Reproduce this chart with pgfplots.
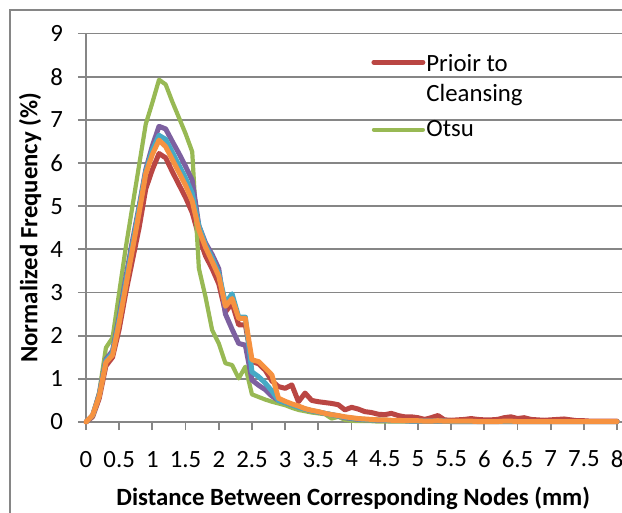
\documentclass[border=0pt]{standalone}
\usepackage{pgfplots}
\usepackage{pgfplotstable}
\usepackage{fontspec}
\pgfplotsset{compat=1.18}
\setmainfont{Carlito}

\definecolor{gridgray}{RGB}{134,134,134}
\definecolor{sred}{RGB}{186,70,67}
\definecolor{sgreen}{RGB}{152,185,84}
\definecolor{spurple}{RGB}{125,96,160}
\definecolor{scyan}{RGB}{70,170,197}
\definecolor{sorange}{RGB}{246,146,64}

% x  prior  otsu  purple  cyan  orange
\pgfplotstableread{
x    red   green purple cyan  orange
0.0  0     0     0      0     0
0.1  0.12  0.15  0.15   0.15  0.16
0.2  0.55  0.70  0.65   0.62  0.60
0.3  1.30  1.72  1.45   1.42  1.38
0.4  1.50  1.95  1.65   1.60  1.55
0.5  2.15  3.00  2.45   2.38  2.30
0.6  3.00  4.05  3.35   3.25  3.15
0.7  3.75  5.00  4.20   4.10  4.00
0.8  4.50  5.95  5.00   4.95  4.85
0.9  5.40  6.90  5.85   5.80  5.75
1.0  5.85  7.40  6.40   6.30  6.20
1.1  6.22  7.93  6.85   6.64  6.53
1.2  6.12  7.82  6.79   6.55  6.38
1.3  5.80  7.42  6.50   6.25  6.08
1.4  5.50  7.05  6.22   5.95  5.78
1.5  5.20  6.68  5.92   5.65  5.48
1.6  4.85  6.26  5.60   5.30  5.12
1.7  4.30  3.56  4.55   4.55  4.45
1.8  3.85  2.90  4.15   4.10  4.05
1.9  3.55  2.13  3.88   3.80  3.72
2.0  3.20  1.82  3.55   3.45  3.38
2.1  2.55  1.36  2.50   2.75  2.68
2.2  2.75  1.32  2.15   2.97  2.86
2.3  2.25  1.01  1.82   2.43  2.40
2.4  2.25  1.28  1.78   2.43  2.40
2.5  1.40  0.64  0.97   1.16  1.44
2.6  1.35  0.58  0.85   1.05  1.40
2.7  1.20  0.52  0.75   0.90  1.25
2.8  0.95  0.47  0.60   0.72  1.09
2.9  0.82  0.43  0.50   0.50  0.55
3.0  0.78  0.39  0.45   0.45  0.48
3.1  0.86  0.33  0.40   0.40  0.42
3.2  0.47  0.28  0.35   0.34  0.37
3.3  0.67  0.25  0.30   0.30  0.31
3.4  0.50  0.22  0.26   0.26  0.27
3.5  0.47  0.20  0.23   0.23  0.24
3.6  0.45  0.18  0.20   0.20  0.20
3.7  0.43  0.08  0.17   0.17  0.17
3.8  0.40  0.12  0.14   0.14  0.15
3.9  0.28  0.05  0.10   0.11  0.12
4.0  0.34  0.03  0.08   0.09  0.10
4.1  0.30  0.02  0.06   0.07  0.08
4.2  0.24  0.02  0.05   0.06  0.07
4.3  0.22  0.02  0.05   0.05  0.06
4.4  0.18  0.01  0.04   0.05  0.05
4.5  0.17  0.01  0.04   0.04  0.05
4.6  0.20  0.01  0.03   0.03  0.04
4.7  0.15  0.01  0.03   0.03  0.04
4.8  0.12  0.01  0.03   0.03  0.03
4.9  0.12  0.01  0.02   0.02  0.03
5.0  0.10  0.01  0.02   0.02  0.03
5.1  0.06  0.01  0.02   0.02  0.02
5.2  0.10  0.01  0.02   0.02  0.02
5.3  0.15  0.01  0.02   0.02  0.03
5.4  0.05  0.01  0.02   0.02  0.02
5.5  0.04  0.01  0.01   0.01  0.02
5.6  0.05  0.01  0.01   0.01  0.02
5.7  0.06  0.01  0.01   0.01  0.02
5.8  0.08  0.01  0.01   0.01  0.02
5.9  0.06  0.01  0.01   0.01  0.01
6.0  0.05  0.01  0.01   0.01  0.01
6.1  0.05  0.01  0.01   0.01  0.01
6.2  0.06  0.01  0.01   0.01  0.01
6.3  0.10  0.01  0.01   0.01  0.02
6.4  0.12  0.01  0.01   0.01  0.02
6.5  0.08  0.01  0.01   0.01  0.01
6.6  0.10  0.01  0.01   0.01  0.01
6.7  0.06  0.01  0.01   0.01  0.01
6.8  0.05  0.01  0.01   0.01  0.01
6.9  0.04  0.01  0.01   0.01  0.01
7.0  0.05  0.01  0.01   0.01  0.01
7.1  0.06  0.01  0.01   0.01  0.01
7.2  0.07  0.01  0.01   0.01  0.01
7.3  0.05  0.01  0.01   0.01  0.01
7.4  0.03  0.01  0.01   0.01  0.01
7.5  0.03  0.01  0.01   0.01  0.01
7.6  0.02  0.01  0.01   0.01  0.01
7.7  0.02  0.01  0.01   0.01  0.01
7.8  0.02  0.01  0.01   0.01  0.01
7.9  0.02  0.01  0.01   0.01  0.01
8.0  0.02  0.01  0.01   0.01  0.01
}\dist

\begin{document}
\begin{tikzpicture}
\draw[gridgray, line width=0.8bp] (-38bp,-80bp) rectangle (300bp,206bp);
\begin{axis}[
  scale only axis,
  width=268.9bp, height=194.25bp,
  xmin=0, xmax=8.1, ymin=0, ymax=9,
  xtick={0,0.5,1,1.5,2,2.5,3,3.5,4,4.5,5,5.5,6,6.5,7,7.5,8},
  ytick={0,1,2,3,4,5,6,7,8,9},
  axis x line*=bottom, axis y line*=left,
  axis line style={draw=gridgray, line width=0.9bp, -},
  ymajorgrids,
  grid style={draw=gridgray, line width=0.9bp},
  tick style={draw=gridgray, line width=0.9bp},
  tick align=outside, major tick length=4bp,
  /pgf/number format/assume math mode=true,
  tick label style={font=\fontsize{12.4bp}{14bp}\selectfont},
  xticklabel style={yshift=-7bp},
  yticklabel style={xshift=-4bp},
  xlabel={Distance Between Corresponding Nodes (mm)},
  ylabel={Normalized Frequency (\%)},
  label style={font=\bfseries\fontsize{12.4bp}{14bp}\selectfont},
  xlabel style={at={(axis description cs:0.497,-0.196)}, anchor=center},
  ylabel style={at={(axis description cs:-0.104,0.5)}, anchor=center},
  clip=false,
  every axis plot/.append style={line join=round, line cap=round},
  legend cell align=left,
  legend image code/.code={\draw[#1] (0bp,0bp) -- (24.5bp,0bp);},
  legend style={draw=none, fill=none, at={(axis description cs:0.53,0.958)},
    anchor=north west, inner sep=0pt, row sep=4bp, column sep=-1.5bp,
    font=\fontsize{12.4bp}{15bp}\selectfont,
    cells={align=left}},
]
\addplot[sred, line width=2.5bp, legend image post style={yshift=8.5bp}]
  table[x=x, y=red] {\dist};
\addlegendentry{Prioir to\\Cleansing}
\addplot[sgreen, line width=2.1bp] table[x=x, y=green] {\dist};
\addlegendentry{Otsu}
\addplot[spurple, line width=2.5bp, forget plot] table[x=x, y=purple] {\dist};
\addplot[scyan, line width=2.5bp, forget plot] table[x=x, y=cyan] {\dist};
\addplot[sorange, line width=2.5bp, forget plot] table[x=x, y=orange] {\dist};
\end{axis}
\pgfresetboundingbox
\path[use as bounding box] (-43bp,-45.5bp) rectangle (268bp,211bp);
\end{tikzpicture}
\end{document}
